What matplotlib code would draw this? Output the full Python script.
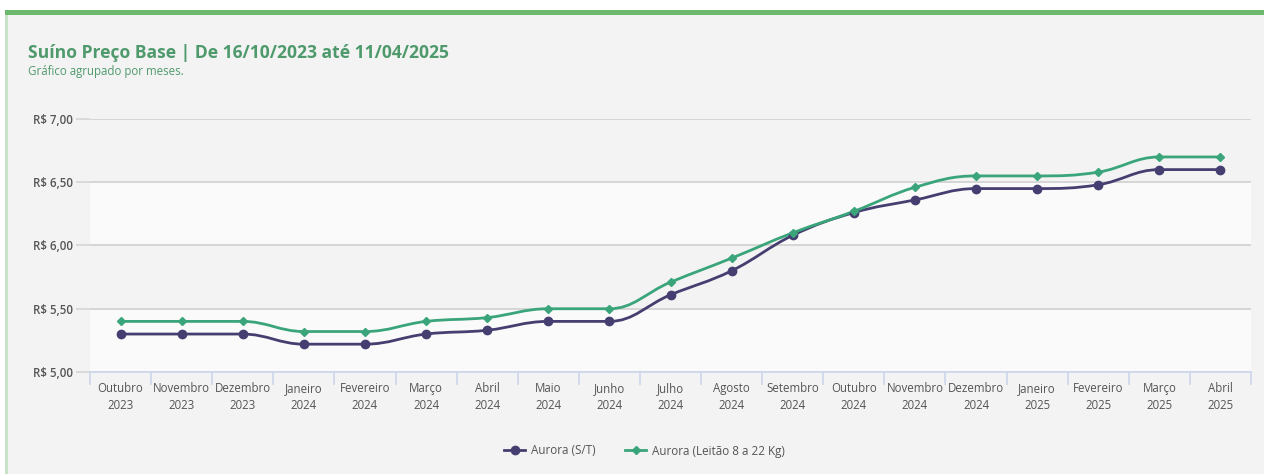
import numpy as np
import matplotlib.pyplot as plt
from matplotlib.path import Path
from matplotlib.patches import PathPatch, Rectangle
from matplotlib.lines import Line2D

# Data
meses = ["Outubro", "Novembro", "Dezembro", "Janeiro", "Fevereiro", "Março", "Abril",
         "Maio", "Junho", "Julho", "Agosto", "Setembro", "Outubro", "Novembro",
         "Dezembro", "Janeiro", "Fevereiro", "Março", "Abril"]
anos = ["2023", "2023", "2023"] + ["2024"] * 12 + ["2025"] * 4
aurora_st = [5.30, 5.30, 5.30, 5.22, 5.22, 5.30, 5.33, 5.40, 5.40, 5.61,
             5.80, 6.08, 6.26, 6.36, 6.45, 6.45, 6.48, 6.60, 6.60]
aurora_leitao = [5.40, 5.40, 5.40, 5.32, 5.32, 5.40, 5.43, 5.50, 5.50, 5.71,
                 5.90, 6.10, 6.27, 6.46, 6.55, 6.55, 6.58, 6.70, 6.70]
yticks = [5.0, 5.5, 6.0, 6.5, 7.0]

PURPLE = "#443f70"
GREEN = "#3aa57a"
TITLE_GREEN = "#4f9a6c"
BG = "#f3f3f3"

plt.rcParams['font.family'] = ['Open Sans', 'DejaVu Sans']


def spline_path(xs, ys, smoothing=1.5):
    # bezier path with control points like a Highcharts spline
    n = len(xs)
    verts = [(xs[0], ys[0])]
    codes = [Path.MOVETO]
    ctrl = []
    for i in range(n):
        if i == 0 or i == n - 1:
            ctrl.append(None)
            continue
        px, py = xs[i], ys[i]
        lx, ly = xs[i - 1], ys[i - 1]
        nx, ny = xs[i + 1], ys[i + 1]
        d = smoothing + 1
        lcx = (smoothing * px + lx) / d
        lcy = (smoothing * py + ly) / d
        rcx = (smoothing * px + nx) / d
        rcy = (smoothing * py + ny) / d
        if rcx != lcx:
            corr = ((rcy - lcy) * (rcx - px)) / (rcx - lcx) + py - rcy
            lcy += corr
            rcy += corr
        if lcy > ly and lcy > py:
            lcy = max(ly, py)
            rcy = 2 * py - lcy
        elif lcy < ly and lcy < py:
            lcy = min(ly, py)
            rcy = 2 * py - lcy
        if rcy > ny and rcy > py:
            rcy = max(ny, py)
            lcy = 2 * py - rcy
        elif rcy < ny and rcy < py:
            rcy = min(ny, py)
            lcy = 2 * py - rcy
        ctrl.append(((lcx, lcy), (rcx, rcy)))
    for i in range(1, n):
        c1 = ctrl[i - 1][1] if ctrl[i - 1] else (xs[i - 1], ys[i - 1])
        c2 = ctrl[i][0] if ctrl[i] else (xs[i], ys[i])
        verts += [c1, c2, (xs[i], ys[i])]
        codes += [Path.CURVE4] * 3
    return Path(verts, codes)


fig = plt.figure(figsize=(12.64, 4.74), dpi=100)
fig.patch.set_facecolor("white")

# card background and borders
fig.patches.append(Rectangle((5 / 1264, 0), 1 - 5 / 1264, 1 - 10 / 474,
                             transform=fig.transFigure, facecolor=BG, edgecolor="none", zorder=-3))
fig.patches.append(Rectangle((5 / 1264, 0), 3 / 1264, 1 - 10 / 474,
                             transform=fig.transFigure, facecolor="#c8e3c8", edgecolor="none", zorder=-2))
fig.patches.append(Rectangle((5 / 1264, 1 - 14.5 / 474), 1 - 5 / 1264, 5 / 474,
                             transform=fig.transFigure, facecolor="#6cb86c", edgecolor="none", zorder=-1))

fig.text(28 / 1264, 1 - 53 / 474, "Suíno Preço Base | De 16/10/2023 até 11/04/2025",
         fontsize=12.6, fontweight="bold", color=TITLE_GREEN, va="center", ha="left")
fig.text(28 / 1264, 1 - 72 / 474, "Gráfico agrupado por meses.",
         fontsize=8.3, color=TITLE_GREEN, va="center", ha="left")

ax = fig.add_axes([90 / 1264, 1 - 372 / 474, (1251 - 90) / 1264, (372 - 119) / 474])
ax.set_facecolor(BG)
n = len(meses)
x = np.arange(n)
ax.set_xlim(-0.5, n - 0.5)
ax.set_ylim(5.0, 7.0)

# alternating plot bands
for lo, hi in [(5.0, 5.5), (6.0, 6.5)]:
    ax.axhspan(lo, hi, color="#fafafa", zorder=0, lw=0)

ax.set_yticks(yticks)
ax.set_yticklabels(["R$ " + f"{v:.2f}".replace(".", ",") for v in yticks],
                   fontsize=8.3, color="#555555", fontweight="semibold")
ax.tick_params(axis="y", length=10, color="#d6d6d6", width=1.2, pad=2)
ax.grid(axis="y", color="#d6d6d6", lw=1.4, zorder=1)

ax.set_xticks(x)
ax.set_xticklabels([f"{m}\n{a}" for m, a in zip(meses, anos)], fontsize=8.3,
                   color="#555555", linespacing=1.45)
ax.set_xticks(np.arange(-0.5, n, 1), minor=True)
ax.tick_params(axis="x", which="major", length=0, pad=7)
ax.tick_params(axis="x", which="minor", length=9, color="#ccd6eb", width=1.2)

for s in ["top", "right", "left"]:
    ax.spines[s].set_visible(False)
ax.spines["bottom"].set_color("#ccd6eb")
ax.spines["bottom"].set_linewidth(1.2)

ax.add_patch(PathPatch(spline_path(x, aurora_st), facecolor="none",
                       edgecolor=PURPLE, lw=2, zorder=3))
ax.plot(x, aurora_st, "o", color=PURPLE, ms=6, zorder=4)
ax.add_patch(PathPatch(spline_path(x, aurora_leitao), facecolor="none",
                       edgecolor=GREEN, lw=2, zorder=3))
ax.plot(x, aurora_leitao, "D", color=GREEN, ms=4, zorder=4)

handles = [Line2D([], [], color=PURPLE, lw=2, marker="o", ms=6),
           Line2D([], [], color=GREEN, lw=2, marker="D", ms=4)]
fig.legend(handles, ["Aurora (S/T)", "Aurora (Leitão 8 a 22 Kg)"],
           loc="center", bbox_to_anchor=(0.51, 1 - 451 / 474), ncol=2, frameon=False,
           fontsize=8.4, labelcolor="#555555", handlelength=1.8, columnspacing=2.5,
           handletextpad=0.5)

fig.savefig("out.png", dpi=100, facecolor=fig.get_facecolor())
